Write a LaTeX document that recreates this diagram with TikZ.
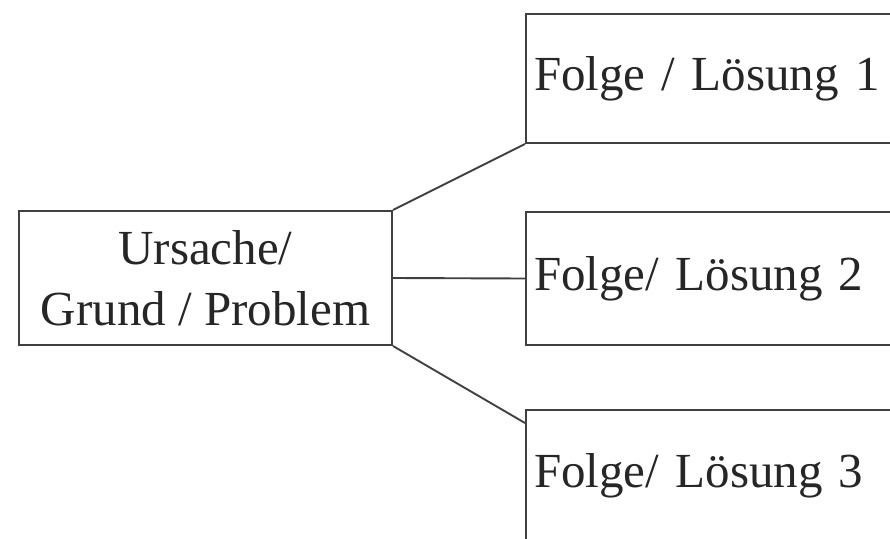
\documentclass[tikz,border=0pt]{standalone}
\usepackage{fontspec}
\setmainfont{Liberation Serif}
\begin{document}
\begin{tikzpicture}[x=1pt,y=-1pt,
  box/.style={draw=black!75, line width=2pt, rectangle, inner sep=0pt, text=black!85,
    font=\fontsize{49}{61}\selectfont},
  conn/.style={draw=black!75, line width=1.9pt}]
\clip (0,0) rectangle (890,538);
\fill[white] (0,0) rectangle (890,538);
\node[box, minimum width=373pt, minimum height=134pt, align=center] (u) at (205.5,278)
  {Ursache/\\Grund / Problem};
\node[box, minimum width=400pt, minimum height=129pt, anchor=west, text width=384pt, inner xsep=8pt, align=left] (b1) at (525,78.5) {Folge / Lösung 1};
\node[box, minimum width=400pt, minimum height=133pt, anchor=west, text width=384pt, inner xsep=8pt, align=left] (b2) at (525,278.5) {Folge/ Lösung 2};
\node[box, minimum width=400pt, minimum height=133pt, anchor=west, text width=384pt, inner xsep=8pt, align=left] (b3) at (525,476) {Folge/ Lösung 3};
\coordinate (c3) at (525,423);
\draw[conn] (u.north east) -- (b1.south west);
\draw[conn] (u.east) -- (b2.west);
\draw[conn] (u.south east) -- (c3);
\end{tikzpicture}
\end{document}
